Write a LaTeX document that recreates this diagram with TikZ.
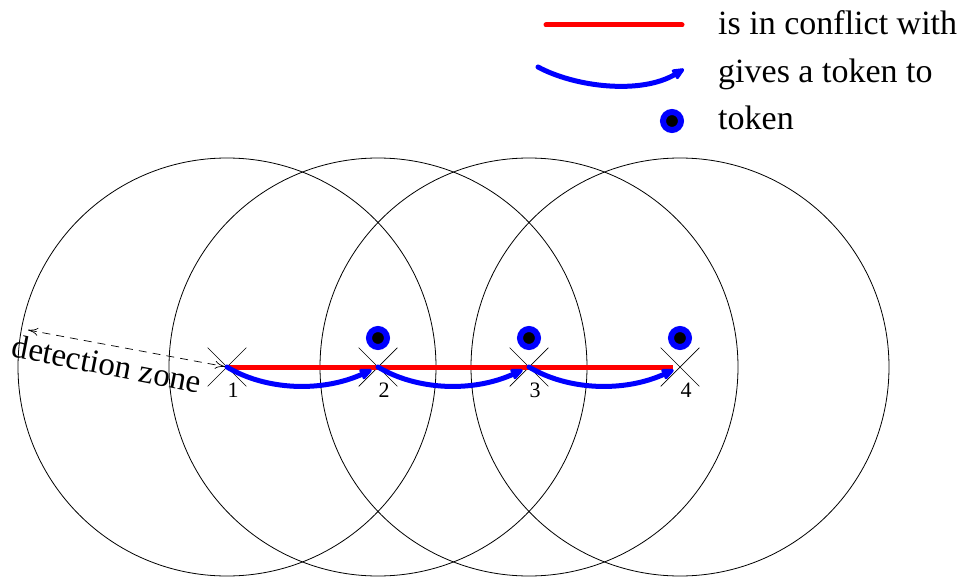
\documentclass[tikz,border=0pt]{standalone}
\usepackage{fontspec}
\setmainfont{Liberation Serif}
\usetikzlibrary{positioning,arrows.meta,shapes.misc}

\begin{document}
\begin{tikzpicture}[
  x=1pt, y=-1pt,
  zone/.style={draw=black, line width=0.8pt},
  stn/.style={cross out, draw=black, line width=0.7pt, minimum size=38pt, inner sep=0pt},
  tok/.style={circle, fill=black, draw=blue, line width=6pt, minimum size=18pt, inner sep=0pt},
  cfl/.style={draw=red, line width=5pt},
  giv/.style={-{Stealth[length=15pt,width=13pt,inset=2pt,round]}, draw=blue, line width=5pt, line cap=round},
  det/.style={{To[length=10pt,width=8pt]}-{To[length=10pt,width=8pt]}, dash pattern=on 8pt off 6pt, line width=0.7pt},
  num/.style={font=\fontsize{22}{22}\selectfont, inner sep=0pt},
  lgd/.style={font=\fontsize{34}{34}\selectfont, anchor=base west, inner sep=0pt}
]
\useasboundingbox (0,0) rectangle (959,578);

% stations
\node[stn] (n1) at (227,367) {};
\node[stn] (n2) at (378,367) {};
\node[stn] (n3) at (529,367) {};
\node[stn] (n4) at (680,367) {};

% detection zones
\draw[zone] (n1) circle[radius=209];
\draw[zone] (n2) circle[radius=209];
\draw[zone] (n3) circle[radius=209];
\draw[zone] (n4) circle[radius=209];

% conflicts and token passing
\draw[cfl, shorten >=7pt] (n1.center) -- (n4.center);
\draw[giv, shorten >=7pt] (n1.center) .. controls +(38,23) and +(-57,26) .. (n2.center);
\draw[giv, shorten >=7pt] (n2.center) .. controls +(38,23) and +(-57,26) .. (n3.center);
\draw[giv, shorten >=7pt] (n3.center) .. controls +(38,23) and +(-57,26) .. (n4.center);

\node[tok] (t2) at (378,338) {};
\node[tok] (t3) at (529,338) {};
\node[tok] (t4) at (680,338) {};

\node[num] (l1) at (233,390) {1};
\node[num] (l2) at (384,390) {2};
\node[num] (l3) at (535,390) {3};
\node[num] (l4) at (686,390) {4};

% detection zone label
\coordinate (dz) at (28,330);
\draw[det, shorten >=2pt] (dz) -- (n1.center);
\node[rotate=-11, font=\fontsize{33}{33}\selectfont, inner sep=0pt] (dtxt) at (107,364) {detection zone};

% legend
\coordinate (ca) at (546,25);
\coordinate (cb) at (682,25);
\draw[cfl, line cap=round] (ca) -- (cb);
\node[lgd] (lc) at (718,35) {is in conflict with};
\coordinate (ga) at (538,67);
\coordinate (gb) at (684,69);
\draw[giv] (ga) .. controls +(37,20) and +(-43,26) .. (gb);
\node[lgd] (lg) at (718,83) {gives a token to};
\node[tok] (lt) at (672,121) {};
\node[lgd] (ltk) at (718,129) {token};
\end{tikzpicture}
\end{document}
